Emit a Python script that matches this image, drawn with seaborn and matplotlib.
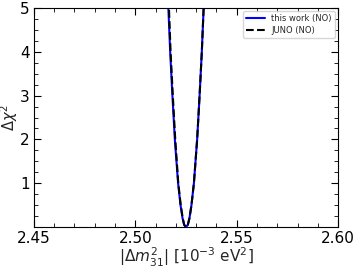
import pandas as pd
import matplotlib
matplotlib.use("Agg")
import matplotlib.pyplot as plt
from matplotlib.ticker import MultipleLocator
import seaborn as sns

# --- Données ---
dm31_this = [2.5155, 2.5163, 2.5172, 2.5183, 2.5195, 2.5211, 2.5223, 2.5233, 2.5241,
             2.5250, 2.5259, 2.5267, 2.5277, 2.5289, 2.5305, 2.5317, 2.5328, 2.5337, 2.5345]
chi2_this = [6.0, 5.0, 4.0, 3.0, 2.0, 1.0, 0.5, 0.2, 0.05,
             0.0, 0.05, 0.2, 0.5, 1.0, 2.0, 3.0, 4.0, 5.0, 6.0]

dm31_juno = [2.5158, 2.5166, 2.5174, 2.5185, 2.5197, 2.5212, 2.5224, 2.5234, 2.5241,
             2.5250, 2.5259, 2.5267, 2.5277, 2.5289, 2.5305, 2.5317, 2.5328, 2.5337, 2.5345]
chi2_juno = [6.0, 5.0, 4.0, 3.0, 2.0, 1.0, 0.5, 0.2, 0.05,
             0.0, 0.05, 0.2, 0.5, 1.0, 2.0, 3.0, 4.0, 5.0, 6.0]

sns.set_style("white")
plt.rcParams["font.family"] = ["DejaVu Sans"]

df_this = pd.DataFrame({"dm": dm31_this, "chi2": chi2_this})
df_juno = pd.DataFrame({"dm": dm31_juno, "chi2": chi2_juno})

fig = plt.figure(figsize=(3.57, 2.68), dpi=100)
ax = fig.add_axes([0.095, 0.153, 0.852, 0.817])

sns.lineplot(data=df_this, x="dm", y="chi2", ax=ax, color="blue", lw=1.5,
             label="this work (NO)", sort=False)
sns.lineplot(data=df_juno, x="dm", y="chi2", ax=ax, color="black", lw=1.5,
             ls="--", label="JUNO (NO)", sort=False)

ax.set_xlim(2.45, 2.60)
ax.set_ylim(0, 5)
ax.set_xticks([2.45, 2.50, 2.55, 2.60])
ax.set_yticks([1, 2, 3, 4, 5])
ax.xaxis.set_minor_locator(MultipleLocator(0.01))
ax.yaxis.set_minor_locator(MultipleLocator(0.25))
ax.tick_params(which="both", direction="in", bottom=True, left=True,
               top=True, right=True, colors="black", labelsize=11, pad=3)
ax.tick_params(which="major", length=5, width=0.8)
ax.tick_params(which="minor", length=3, width=0.6)
for s in ax.spines.values():
    s.set_color("black")
    s.set_linewidth(0.8)

ax.set_xlabel(r"$|\Delta m^2_{31}|$ [$10^{-3}$ eV$^2$]", fontsize=11, labelpad=0)
ax.set_ylabel(r"$\Delta\chi^2$", fontsize=10.5)
ax.yaxis.set_label_coords(-0.045, 0.5)

ax.legend(loc="upper right", fontsize=6, handlelength=2.2, frameon=True,
          borderaxespad=0.4, labelspacing=0.3, borderpad=0.35)

fig.savefig("out.png", dpi=100)
